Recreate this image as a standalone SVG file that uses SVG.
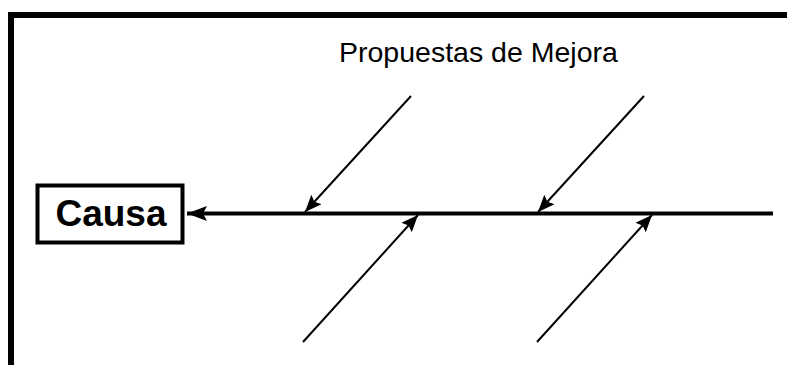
<svg xmlns="http://www.w3.org/2000/svg" width="787" height="365" viewBox="0 0 787 365">
<style>
.frame{stroke:#000;stroke-width:6;fill:none}
.spine{stroke:#000;stroke-width:4;fill:none}
.bone{stroke:#000;stroke-width:2;fill:none}
.box{stroke:#000;stroke-width:4;fill:#fff}
.title{font-family:"Liberation Sans",Arial,sans-serif;font-size:28.5px;fill:#000}
.label{font-family:"Liberation Sans",Arial,sans-serif;font-size:37px;font-weight:bold;fill:#000}
</style>
<defs>
<marker id="big" markerUnits="userSpaceOnUse" markerWidth="20" markerHeight="15" refX="20" refY="7.5" orient="auto" viewBox="0 0 20 15">
<path d="M0,0 L20,7.5 L0,15 L4,7.5 z" fill="#000"/>
</marker>
<marker id="small" markerUnits="userSpaceOnUse" markerWidth="17" markerHeight="14" refX="17" refY="7" orient="auto" viewBox="0 0 17 14">
<path d="M0,0 L17,7 L0,14 L3,7 z" fill="#000"/>
</marker>
</defs>
<g id="frame">
<path class="frame" d="M11,365 L11,15 L787,15"/>
</g>
<g id="title">
<text class="title" x="339" y="62">Propuestas de Mejora</text>
</g>
<g id="causa">
<rect class="box" x="37.5" y="185.5" width="145" height="57"/>
<text class="label" x="111" y="226" text-anchor="middle">Causa</text>
</g>
<g id="connectors">
<line class="spine" x1="773" y1="213.5" x2="187" y2="213.5" marker-end="url(#big)"/>
<line class="bone" x1="411" y1="96" x2="305" y2="212" marker-end="url(#small)"/>
<line class="bone" x1="644" y1="96" x2="538" y2="212" marker-end="url(#small)"/>
<line class="bone" x1="303" y1="342" x2="418" y2="215" marker-end="url(#small)"/>
<line class="bone" x1="537" y1="342" x2="652" y2="215" marker-end="url(#small)"/>
</g>
</svg>
